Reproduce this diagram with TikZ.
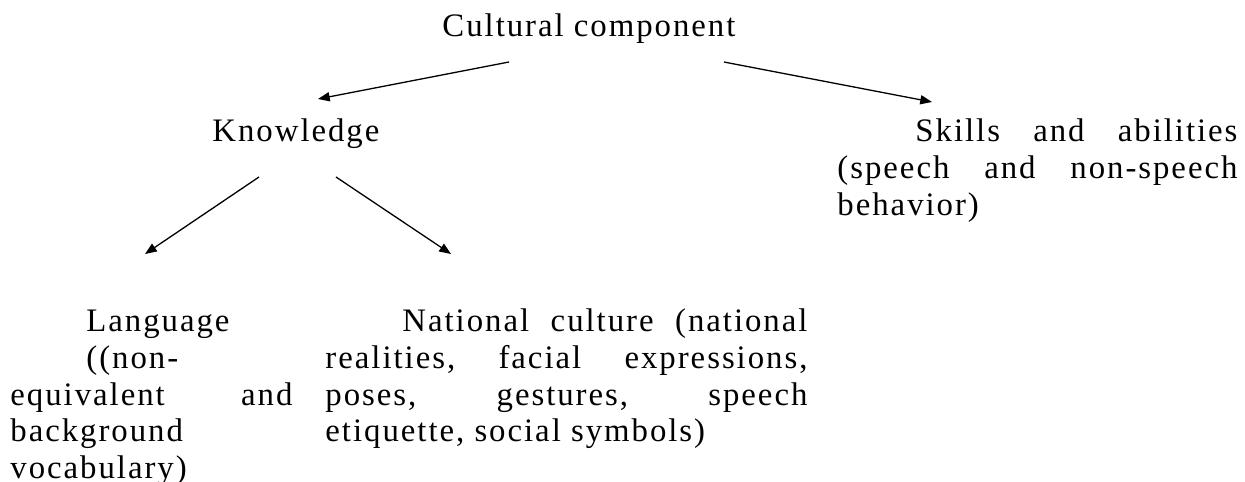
\documentclass[tikz,border=0pt]{standalone}
\usepackage{fontspec}
\setmainfont[LetterSpace=6]{Liberation Serif}
\usetikzlibrary{arrows.meta,calc}
\newdimen\unitpx
\unitpx=0.4268pt
\begin{document}
\begin{tikzpicture}[x=1\unitpx, y=-1\unitpx,
	txt/.style={anchor=base west, inner sep=0pt, font=\fontsize{14}{15.6}\selectfont},
	blk/.style={txt, align=justify},
	arr/.style={-{Triangle[length=5pt, width=3.9pt]}, line width=1.3\unitpx}]
	\useasboundingbox (0,0) rectangle (1245,482);

	\node[txt] (cult) at (442,37) {Cultural component};
	\node[txt] (know) at (212,142) {Knowledge};
	\node[blk, text width=400\unitpx] (skills) at (837,142)
		{\hspace*{78\unitpx}Skills\hfill and\hfill abilities\\
		(speech\hfill and\hfill non-speech\\
		behavior)};

	\node[blk, text width=282\unitpx] (lang) at (10,332)
		{\hspace*{76\unitpx}Language\\
		\hspace*{76\unitpx}((non-\\
		equivalent\hfill and\\
		background\\
		vocabulary)};
	\node[blk, text width=482\unitpx] (nat) at (325,332)
		{\hspace*{77\unitpx}National\hfill culture\hfill (national\\
		realities,\hfill facial\hfill expressions,\\
		poses,\hfill gestures,\hfill speech\\
		etiquette, social symbols)};

	\draw[arr] ($(cult.base west)+(67,25)$) -- ($(know.base west)+(106,-43)$);
	\draw[arr] ($(cult.base east)+(-12,25)$) -- ($(skills.base west)+(95,-40)$);
	\draw[arr] ($(know.base west)+(47,35)$) -- ($(lang.base west)+(135,-78)$);
	\draw[arr] ($(know.base west)+(124,35)$) -- ($(nat.base west)+(126,-78)$);
\end{tikzpicture}
\end{document}
